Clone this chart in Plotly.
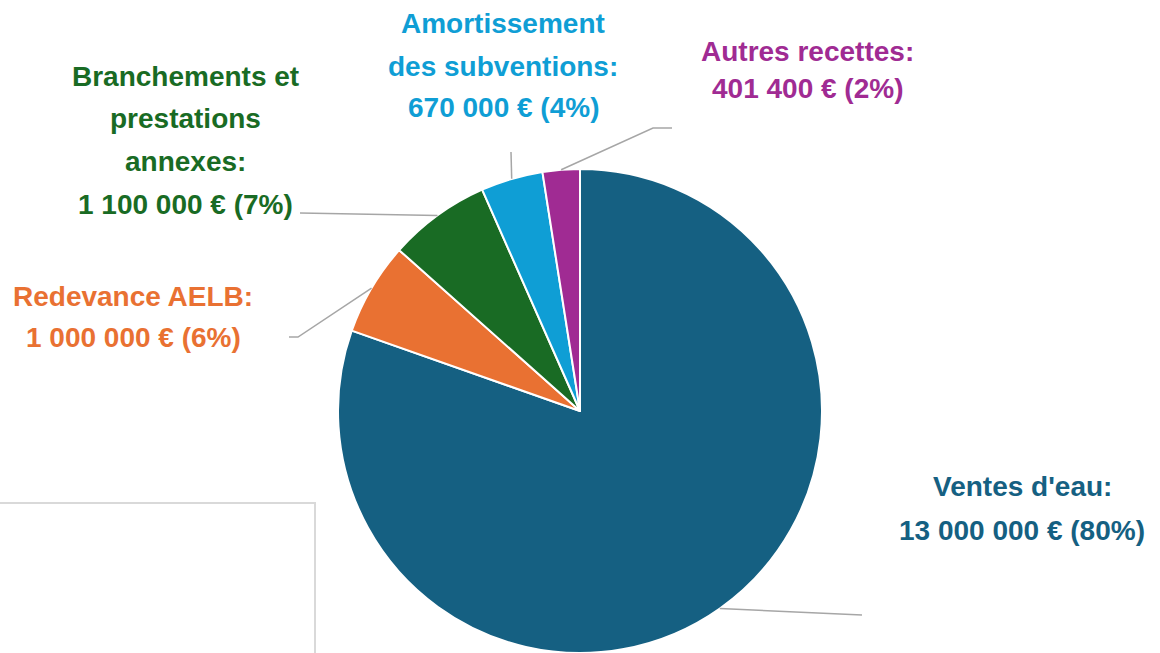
import math
import plotly.graph_objects as go

# ---------------- data ----------------
categories = ["Ventes d'eau", "Redevance AELB", "Branchements et prestations annexes",
              "Amortissement des subventions", "Autres recettes"]
values = [13000000, 1000000, 1100000, 670000, 401400]
label_lines = [["Ventes d'eau:"], ["Redevance AELB:"],
               ["Branchements et", "prestations", "annexes:"],
               ["Amortissement", "des subventions:"], ["Autres recettes:"]]
colors = ["#156082", "#E97132", "#196B24", "#0F9ED5", "#A02B93"]

# ---------------- layout constants (pixels) ----------------
W, H = 1160, 653
CX, CY, R = 580, 411, 242
# label text: center x and y of each line (px)
label_x = [1022, 133, 185, 503, 808]
label_y = [[487, 530], [297, 337], [76, 118, 161, 204], [24, 66, 108], [52, 88]]
# leader line routes after start point (px)
routes = [[(862, 615)], [(298, 337), (289, 337)], [(300, 213)], [(511, 152)],
          [(653, 128), (672, 128)]]

def px(x):
    return x / W

def py(y):
    return 1 - y / H

total = sum(values)

fig = go.Figure(go.Pie(
    labels=categories, values=values, sort=False, direction="clockwise",
    marker=dict(colors=colors, line=dict(color="white", width=2)),
    textinfo="none", hoverinfo="label+value+percent", showlegend=False,
    domain=dict(x=[px(CX - R), px(CX + R)], y=[py(CY + R), py(CY - R)]),
))

annotations = []
shapes = []
cum = 0
for i, v in enumerate(values):
    pct = round(v / total * 100)
    val_txt = f"{v:,.0f}".replace(",", " ") + f" € ({pct}%)"
    lines = label_lines[i] + [val_txt]
    for j, t in enumerate(lines):
        annotations.append(dict(
            x=px(label_x[i]), y=py(label_y[i][j]), xref="paper", yref="paper",
            text=t, showarrow=False, xanchor="center", yanchor="middle",
            font=dict(family="Liberation Sans", size=28, color=colors[i], weight="bold"),
        ))
    # leader line from slice mid-angle on the rim
    mid = 360 * (cum + v / 2) / total
    ang = math.radians(90 - mid)
    sx, sy = CX + R * math.cos(ang), CY - R * math.sin(ang)
    pts = [(sx, sy)] + routes[i]
    path = "M " + " L ".join(f"{px(a)},{py(b)}" for a, b in pts)
    shapes.append(dict(type="path", path=path, xref="paper", yref="paper",
                       line=dict(color="#A6A6A6", width=1.5)))
    cum += v

# light grey box at bottom-left
shapes.append(dict(type="rect", xref="paper", yref="paper",
                   x0=-0.01, x1=px(315), y0=-0.05, y1=py(503),
                   line=dict(color="#D9D9D9", width=2), fillcolor="rgba(0,0,0,0)"))

fig.update_layout(
    width=W, height=H, margin=dict(l=0, r=0, t=0, b=0),
    paper_bgcolor="white", plot_bgcolor="white",
    annotations=annotations, shapes=shapes,
)

fig.write_html("out.html", config={"displayModeBar": False},
               post_script="document.body.style.margin='0';")
